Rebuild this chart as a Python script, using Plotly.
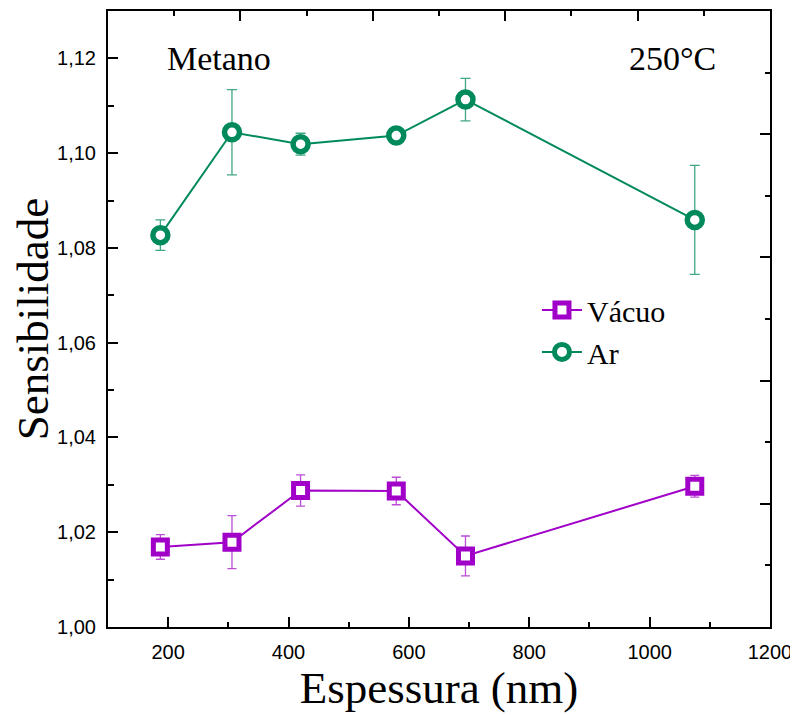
import plotly.graph_objects as go

# Data
espessura = [187, 306, 420, 579, 694, 1075]
vacuo = [1.0169, 1.0179, 1.0288, 1.0287, 1.0150, 1.0297]
vacuo_err = [0.0026, 0.0056, 0.0033, 0.0029, 0.0042, 0.0023]
ar = [1.0827, 1.1044, 1.1019, 1.1037, 1.1113, 1.0859]
ar_err = [0.0032, 0.0090, 0.0023, 0.0006, 0.0045, 0.0115]

purple = '#A000C8'
green = '#008A5C'
serif = 'Liberation Serif, Times New Roman, serif'

fig = go.Figure()
fig.add_trace(go.Scatter(
    x=espessura, y=vacuo, name='Vácuo', mode='lines+markers',
    line=dict(color=purple, width=2),
    marker=dict(symbol='square', size=14, color='white', line=dict(color=purple, width=5)),
    error_y=dict(type='data', array=vacuo_err, visible=True, color='rgba(160,0,200,0.7)', thickness=1.3, width=4.5),
))
fig.add_trace(go.Scatter(
    x=espessura, y=ar, name='Ar', mode='lines+markers',
    line=dict(color=green, width=2),
    marker=dict(symbol='circle', size=15, color='white', line=dict(color=green, width=5.5)),
    error_y=dict(type='data', array=ar_err, visible=True, color='rgba(0,138,92,0.75)', thickness=1.3, width=5),
))
# empty trace to register the top/right decorative axes
fig.add_trace(go.Scatter(x=[], y=[], xaxis='x2', yaxis='y2', showlegend=False, hoverinfo='skip'))

tickfont = dict(family='Liberation Sans, Arial, sans-serif', size=20, color='black')

fig.update_layout(
    width=790, height=707,
    margin=dict(l=100, r=28, t=3, b=88, autoexpand=False),
    plot_bgcolor='white', paper_bgcolor='white',
    showlegend=True,
    legend=dict(x=0.648, y=0.557, xanchor='left', yanchor='top',
                font=dict(family=serif, size=30, color='black'),
                bgcolor='rgba(0,0,0,0)', tracegroupgap=0, itemwidth=40),
    xaxis=dict(range=[100, 1200], dtick=200, tick0=0, ticks='inside', ticklen=10, tickwidth=1.5,
               tickcolor='black', showline=True, linecolor='black', linewidth=2, mirror=True,
               showgrid=False, zeroline=False, tickfont=tickfont, ticklabelstandoff=6, automargin=False,
               minor=dict(dtick=100, tick0=0, ticks='inside', ticklen=5, tickwidth=1.5, tickcolor='black'),
               title=dict(text='Espessura (nm)', standoff=4,
                          font=dict(family=serif, size=45, color='black'))),
    yaxis=dict(range=[1.0, 1.13], dtick=0.02, tick0=1.0, tickformat='.2f', ticks='inside', ticklen=10,
               tickwidth=1.5, tickcolor='black', showline=True, linecolor='black', linewidth=2, mirror=True,
               showgrid=False, zeroline=False, tickfont=tickfont, ticklabelstandoff=6, automargin=False,
               minor=dict(dtick=0.01, tick0=1.0, ticks='inside', ticklen=6, tickwidth=1.5, tickcolor='black'),
               title=dict(text='Sensibilidade', standoff=8,
                          font=dict(family=serif, size=45, color='black'))),
    xaxis2=dict(overlaying='x', side='top', anchor='y', range=[0, 10], dtick=2, tick0=0,
                ticks='inside', ticklen=10, tickwidth=1.5, tickcolor='black', showticklabels=False,
                showgrid=False, zeroline=False, showline=False, automargin=False,
                minor=dict(dtick=1, tick0=0, ticks='inside', ticklen=5, tickwidth=1.5, tickcolor='black')),
    yaxis2=dict(overlaying='y', side='right', anchor='x', range=[0, 10], dtick=2, tick0=0,
                ticks='inside', ticklen=10, tickwidth=1.5, tickcolor='black', showticklabels=False,
                showgrid=False, zeroline=False, showline=False, automargin=False,
                minor=dict(dtick=1, tick0=0, ticks='inside', ticklen=5, tickwidth=1.5, tickcolor='black')),
    separators=',.',
    annotations=[
        dict(text='Metano', xref='paper', yref='paper', x=0.086, y=0.923, xanchor='left', yanchor='middle',
             showarrow=False, font=dict(family=serif, size=34, color='black')),
        dict(text='250°C', xref='paper', yref='paper', x=0.921, y=0.923, xanchor='right', yanchor='middle',
             showarrow=False, font=dict(family=serif, size=34, color='black')),
    ],
)

fig.write_html('out.html')
